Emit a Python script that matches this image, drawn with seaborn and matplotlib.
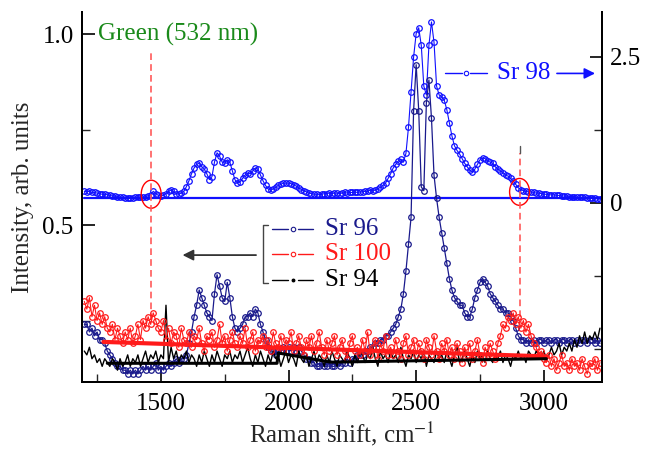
import numpy as np
import pandas as pd
import matplotlib
matplotlib.use("Agg")
import matplotlib.pyplot as plt
from matplotlib.patches import Ellipse
import seaborn as sns

# ---------------- data ----------------
raman_shift = np.arange(1200, 3230, 10)  # cm^-1 grid (203 points)

sr98 = [  # right axis
    0.20, 0.19, 0.20, 0.18, 0.18, 0.17, 0.16, 0.15, 0.15, 0.14,
    0.13, 0.12, 0.12, 0.11, 0.10, 0.10, 0.09, 0.08, 0.09, 0.09,
    0.10, 0.10, 0.11, 0.10, 0.11, 0.12, 0.14, 0.20, 0.16, 0.13,
    0.12, 0.13, 0.16, 0.20, 0.22, 0.20, 0.16, 0.15, 0.17, 0.20,
    0.28, 0.38, 0.50, 0.60, 0.66, 0.68, 0.62, 0.58, 0.50, 0.40,
    0.45, 0.70, 0.86, 0.80, 0.70, 0.68, 0.74, 0.70, 0.55, 0.40,
    0.34, 0.36, 0.42, 0.48, 0.51, 0.50, 0.55, 0.60, 0.58, 0.48,
    0.38, 0.30, 0.24, 0.22, 0.24, 0.27, 0.30, 0.32, 0.34, 0.34,
    0.34, 0.33, 0.31, 0.29, 0.26, 0.23, 0.21, 0.19, 0.17, 0.16,
    0.15, 0.15, 0.14, 0.15, 0.16, 0.16, 0.17, 0.16, 0.17, 0.17,
    0.16, 0.17, 0.18, 0.17, 0.18, 0.18, 0.19, 0.18, 0.19, 0.19,
    0.20, 0.20, 0.22, 0.21, 0.22, 0.24, 0.27, 0.30, 0.34, 0.42,
    0.50, 0.60, 0.66, 0.72, 0.75, 0.70, 0.85, 1.30, 1.90, 2.50,
    2.90, 3.00, 2.70, 2.00, 1.85, 2.70, 3.10, 2.75, 2.00, 1.85,
    1.82, 1.76, 1.60, 1.37, 1.15, 0.98, 0.90, 0.84, 0.76, 0.68,
    0.62, 0.56, 0.53, 0.58, 0.66, 0.74, 0.77, 0.76, 0.72, 0.70,
    0.68, 0.62, 0.58, 0.55, 0.52, 0.48, 0.46, 0.42, 0.38, 0.32,
    0.26, 0.23, 0.21, 0.20, 0.19, 0.19, 0.18, 0.17, 0.17, 0.16,
    0.15, 0.15, 0.14, 0.14, 0.14, 0.13, 0.13, 0.12, 0.12, 0.12,
    0.11, 0.11, 0.11, 0.10, 0.10, 0.10, 0.10, 0.09, 0.09, 0.08,
    0.08, 0.07, 0.07,
]

sr96 = [  # left axis
    0.24, 0.24, 0.22, 0.23, 0.21, 0.22, 0.20, 0.20, 0.19, 0.17,
    0.16, 0.15, 0.14, 0.13, 0.13, 0.12, 0.12, 0.11, 0.12, 0.11,
    0.12, 0.11, 0.12, 0.13, 0.12, 0.13, 0.12, 0.13, 0.14, 0.12,
    0.13, 0.12, 0.13, 0.14, 0.13, 0.14, 0.15, 0.14, 0.15, 0.15,
    0.16, 0.19, 0.22, 0.26, 0.29, 0.33, 0.31, 0.29, 0.27, 0.26,
    0.25, 0.32, 0.37, 0.34, 0.31, 0.30, 0.35, 0.31, 0.26, 0.23,
    0.22, 0.23, 0.24, 0.26, 0.26, 0.27, 0.26, 0.28, 0.27, 0.24,
    0.22, 0.20, 0.18, 0.17, 0.17, 0.16, 0.17, 0.17, 0.18, 0.17,
    0.18, 0.17, 0.18, 0.17, 0.18, 0.17, 0.16, 0.15, 0.15, 0.14,
    0.14, 0.13, 0.13, 0.14, 0.13, 0.13, 0.14, 0.13, 0.13, 0.14,
    0.13, 0.14, 0.14, 0.15, 0.14, 0.15, 0.15, 0.16, 0.16, 0.16,
    0.17, 0.17, 0.18, 0.18, 0.19, 0.19, 0.20, 0.20, 0.21, 0.21,
    0.22, 0.23, 0.24, 0.26, 0.28, 0.32, 0.38, 0.45, 0.52, 0.80,
    0.92, 0.80, 0.60, 0.59, 0.82, 0.88, 0.78, 0.63, 0.57, 0.52,
    0.48, 0.44, 0.40, 0.36, 0.33, 0.31, 0.30, 0.29, 0.29, 0.27,
    0.26, 0.26, 0.28, 0.31, 0.33, 0.35, 0.36, 0.35, 0.34, 0.32,
    0.31, 0.30, 0.29, 0.28, 0.28, 0.27, 0.27, 0.26, 0.25, 0.23,
    0.21, 0.20, 0.20, 0.19, 0.20, 0.19, 0.20, 0.19, 0.20, 0.20,
    0.19, 0.20, 0.20, 0.19, 0.20, 0.20, 0.19, 0.20, 0.20, 0.19,
    0.20, 0.20, 0.19, 0.20, 0.19, 0.20, 0.20, 0.19, 0.20, 0.20,
    0.19, 0.20, 0.19,
]

sr100 = [  # left axis
    0.30, 0.28, 0.31, 0.26, 0.29, 0.25, 0.27, 0.24, 0.26, 0.23,
    0.22, 0.24, 0.20, 0.23, 0.21, 0.19, 0.22, 0.20, 0.23, 0.19,
    0.21, 0.24, 0.20, 0.25, 0.23, 0.26, 0.24, 0.27, 0.25, 0.23,
    0.22, 0.25, 0.20, 0.23, 0.19, 0.22, 0.21, 0.18, 0.23, 0.20,
    0.19, 0.22, 0.18, 0.21, 0.20, 0.23, 0.19, 0.17, 0.21, 0.20,
    0.22, 0.18, 0.20, 0.24, 0.19, 0.21, 0.17, 0.20, 0.22, 0.19,
    0.18, 0.21, 0.19, 0.23, 0.18, 0.20, 0.22, 0.17, 0.20, 0.19,
    0.21, 0.18, 0.20, 0.17, 0.22, 0.19, 0.18, 0.21, 0.17, 0.20,
    0.19, 0.22, 0.17, 0.19, 0.21, 0.18, 0.16, 0.20, 0.18, 0.21,
    0.17, 0.19, 0.22, 0.18, 0.16, 0.20, 0.17, 0.19, 0.21, 0.16,
    0.18, 0.20, 0.17, 0.15, 0.19, 0.21, 0.17, 0.18, 0.16, 0.20,
    0.17, 0.22, 0.16, 0.18, 0.20, 0.15, 0.19, 0.17, 0.21, 0.16,
    0.18, 0.16, 0.20, 0.17, 0.15, 0.19, 0.21, 0.16, 0.18, 0.20,
    0.16, 0.19, 0.17, 0.15, 0.20, 0.18, 0.16, 0.21, 0.17, 0.15,
    0.19, 0.17, 0.20, 0.16, 0.18, 0.15, 0.19, 0.17, 0.14, 0.18,
    0.16, 0.19, 0.15, 0.17, 0.20, 0.16, 0.14, 0.18, 0.16, 0.19,
    0.17, 0.15, 0.19, 0.21, 0.24, 0.23, 0.26, 0.25, 0.27, 0.24,
    0.26, 0.23, 0.25, 0.22, 0.24, 0.21, 0.19, 0.18, 0.16, 0.17,
    0.15, 0.14, 0.16, 0.13, 0.15, 0.12, 0.14, 0.16, 0.13, 0.14,
    0.12, 0.15, 0.13, 0.14, 0.12, 0.15, 0.13, 0.11, 0.14, 0.13,
    0.15, 0.12, 0.14,
]

sr94 = [  # left axis
    0.17, 0.16, 0.18, 0.15, 0.16, 0.14, 0.15, 0.13, 0.15, 0.14,
    0.13, 0.15, 0.14, 0.12, 0.15, 0.13, 0.14, 0.16, 0.13, 0.15,
    0.14, 0.16, 0.13, 0.15, 0.17, 0.14, 0.16, 0.15, 0.17, 0.14,
    0.16, 0.15, 0.29, 0.14, 0.18, 0.15, 0.17, 0.14, 0.16, 0.15,
    0.17, 0.14, 0.16, 0.15, 0.13, 0.16, 0.14, 0.17, 0.15, 0.13,
    0.16, 0.14, 0.17, 0.15, 0.13, 0.16, 0.15, 0.17, 0.14, 0.16,
    0.15, 0.17, 0.14, 0.16, 0.18, 0.15, 0.13, 0.16, 0.14, 0.17,
    0.15, 0.13, 0.16, 0.14, 0.17, 0.15, 0.16, 0.13, 0.15, 0.17,
    0.14, 0.16, 0.15, 0.13, 0.17, 0.15, 0.14, 0.16, 0.13, 0.15,
    0.17, 0.14, 0.16, 0.15, 0.13, 0.16, 0.14, 0.17, 0.15, 0.13,
    0.16, 0.15, 0.14, 0.17, 0.15, 0.13, 0.16, 0.14, 0.17, 0.16,
    0.14, 0.16, 0.15, 0.18, 0.15, 0.13, 0.17, 0.15, 0.16, 0.14,
    0.17, 0.15, 0.16, 0.14, 0.18, 0.15, 0.13, 0.16, 0.15, 0.17,
    0.14, 0.16, 0.15, 0.17, 0.13, 0.16, 0.15, 0.14, 0.17, 0.15,
    0.16, 0.14, 0.17, 0.15, 0.13, 0.16, 0.18, 0.14, 0.15, 0.17,
    0.15, 0.13, 0.16, 0.14, 0.17, 0.15, 0.16, 0.14, 0.17, 0.15,
    0.14, 0.16, 0.15, 0.17, 0.14, 0.16, 0.15, 0.13, 0.16, 0.15,
    0.17, 0.15, 0.16, 0.14, 0.17, 0.16, 0.15, 0.17, 0.16, 0.15,
    0.17, 0.15, 0.16, 0.18, 0.16, 0.17, 0.19, 0.16, 0.18, 0.17,
    0.19, 0.17, 0.20, 0.18, 0.21, 0.19, 0.22, 0.19, 0.21, 0.20,
    0.22, 0.20, 0.23,
]

# smoothed background lines
sr100_fit_x = [1275, 3010]
sr100_fit_y = [0.194, 0.156]
sr94_fit_x = [1290, 1955, 1960, 2165, 3010]
sr94_fit_y = [0.138, 0.138, 0.165, 0.141, 0.150]
# Sr 98 baseline (right axis)
sr98_base_x = [1200, 3225]
sr98_base_y = [0.08, 0.08]

laser_lines = [1462, 2905]

# ---------------- style ----------------
sns.set_theme(style="white")
plt.rcParams["font.family"] = ["Liberation Serif", "DejaVu Serif"]
plt.rcParams["mathtext.fontset"] = "stix"
FS = 18

BLUE = "#1010ff"
NAVY = "#1a1a8c"
RED = "#ff1a1a"
BLACK = "#000000"

fig = plt.figure(figsize=(6.45, 4.54), dpi=100)
ax = fig.add_axes([82 / 645, 72 / 454, 520 / 645, 370 / 454])
ax2 = ax.twinx()
ax.set_zorder(ax2.get_zorder() + 1)
ax.patch.set_visible(False)

mk = dict(marker="o", markersize=4.0, markerfacecolor="none", markeredgewidth=0.9)

# right axis: Sr 98
sns.lineplot(x=sr98_base_x, y=sr98_base_y, ax=ax2, color=BLUE, lw=1.6, errorbar=None)
sns.lineplot(x=raman_shift, y=sr98, ax=ax2, color=BLUE, lw=0.8, markeredgecolor=BLUE,
             errorbar=None, **mk)

# left axis
sns.lineplot(x=raman_shift, y=sr96, ax=ax, color=NAVY, lw=0.9, markeredgecolor=NAVY,
             errorbar=None, **mk)
sns.lineplot(x=raman_shift, y=sr94, ax=ax, color=BLACK, lw=1.0, errorbar=None)
sns.lineplot(x=raman_shift, y=sr100, ax=ax, color=RED, lw=0.8, markeredgecolor=RED,
             errorbar=None, **mk)
sns.lineplot(x=sr100_fit_x, y=sr100_fit_y, ax=ax, color=RED, lw=3.0, errorbar=None)
sns.lineplot(x=sr94_fit_x, y=sr94_fit_y, ax=ax, color=BLACK, lw=2.2, errorbar=None)

# limits / ticks
ax.set_xlim(1191, 3228)
ax.set_ylim(0.089, 1.058)
ax2.set_ylim(-3.065, 3.27)
ax.set_xticks([1500, 2000, 2500, 3000])
ax.set_xticks([1250, 1750, 2250, 2750], minor=True)
ax.set_yticks([0.5, 1.0])
ax.set_yticklabels(["0.5", "1.0"])
ax.set_yticks([0.25, 0.75], minor=True)
ax2.set_yticks([0, 2.5])
ax2.set_yticklabels(["0", "2.5"])
ax2.set_yticks([-2.5, -1.25, 1.25], minor=True)

for a in (ax, ax2):
    a.tick_params(which="major", direction="in", length=9, width=1.2, labelsize=FS, colors="black")
    a.tick_params(which="minor", direction="in", length=6, width=1.0)
    for s in a.spines.values():
        s.set_linewidth(1.4)
        s.set_color("black")
    a.spines["top"].set_visible(False)
ax.tick_params(axis="y", which="both", left=True, right=False, pad=6)
ax.tick_params(axis="x", which="both", bottom=True, pad=8)
ax2.tick_params(axis="y", which="both", right=True, left=False, pad=6)
ax.xaxis.set_ticks_position("bottom")

ax.set_xlabel("Raman shift, cm$^{-1}$", fontsize=FS, labelpad=3)
ax.set_ylabel("Intensity, arb. units", fontsize=FS, labelpad=6)
ax2.set_ylabel("")
ax.grid(False)
ax2.grid(False)

# laser-line markers
ax.axvline(laser_lines[0], ymin=0.168, ymax=0.897, color="#ff5a5a", lw=1.2, ls=(0, (4, 2.5)), zorder=0.5)
ax.axvline(laser_lines[1], ymin=0.176, ymax=0.62, color="#ff5a5a", lw=1.2, ls=(0, (4, 2.5)), zorder=0.5)
ax.axvline(laser_lines[1], ymin=0.62, ymax=0.637, color="#555555", lw=1.0)
ax2.add_patch(Ellipse((laser_lines[0], 0.15), 78, 0.48, fill=False, edgecolor="red", lw=1.0, zorder=5))
ax2.add_patch(Ellipse((laser_lines[1], 0.19), 78, 0.46, fill=False, edgecolor="red", lw=1.0, zorder=5))

ax.text(0.031, 0.9405, "Green (532 nm)", transform=ax.transAxes, color="#1a8a1a",
        fontsize=FS, ha="left", va="center")

# Sr 98 legend with arrow to right axis
T = ax.transAxes
y98 = 0.834
ax.plot([0.698, 0.730], [y98, y98], color=BLUE, lw=1.0, transform=T, clip_on=False)
ax.plot([0.747, 0.779], [y98, y98], color=BLUE, lw=1.0, transform=T, clip_on=False)
ax.plot([0.738], [y98], transform=T, color=BLUE, marker="o", markersize=3.2,
        markerfacecolor="none", markeredgewidth=0.8, clip_on=False)
ax.text(0.798, y98, "Sr 98", transform=T, color=BLUE, fontsize=FS, ha="left", va="center")
ax.annotate("", xy=(0.992, y98), xytext=(0.908, y98), xycoords=T, textcoords=T,
            arrowprops=dict(arrowstyle="-|>", color=BLUE, lw=1.2, mutation_scale=16))

# bracketed legend for left-axis series
entries = [("Sr 96", NAVY, 0.4135, True), ("Sr 100", RED, 0.346, True), ("Sr 94", BLACK, 0.276, False)]
for label, col, yy, hollow in entries:
    ax.plot([0.365, 0.396], [yy, yy], color=col, lw=1.0, transform=T)
    ax.plot([0.415, 0.444], [yy, yy], color=col, lw=1.0, transform=T)
    if hollow:
        ax.plot([0.406], [yy], transform=T, color=col, marker="o", markersize=3.2,
                markerfacecolor="none", markeredgewidth=0.8)
    else:
        ax.plot([0.406], [yy], transform=T, color=col, marker="o", markersize=1.8)
    ax.text(0.468, yy, label, transform=T, color=col, fontsize=FS, ha="left", va="center")
ax.plot([0.358, 0.348, 0.348, 0.358], [0.424, 0.424, 0.268, 0.268], color="#444444", lw=1.0, transform=T)
ax.annotate("", xy=(0.188, 0.343), xytext=(0.340, 0.343), xycoords=T, textcoords=T,
            arrowprops=dict(arrowstyle="-|>", color="#333333", lw=1.3, mutation_scale=16))

fig.savefig("out.png", dpi=100)
